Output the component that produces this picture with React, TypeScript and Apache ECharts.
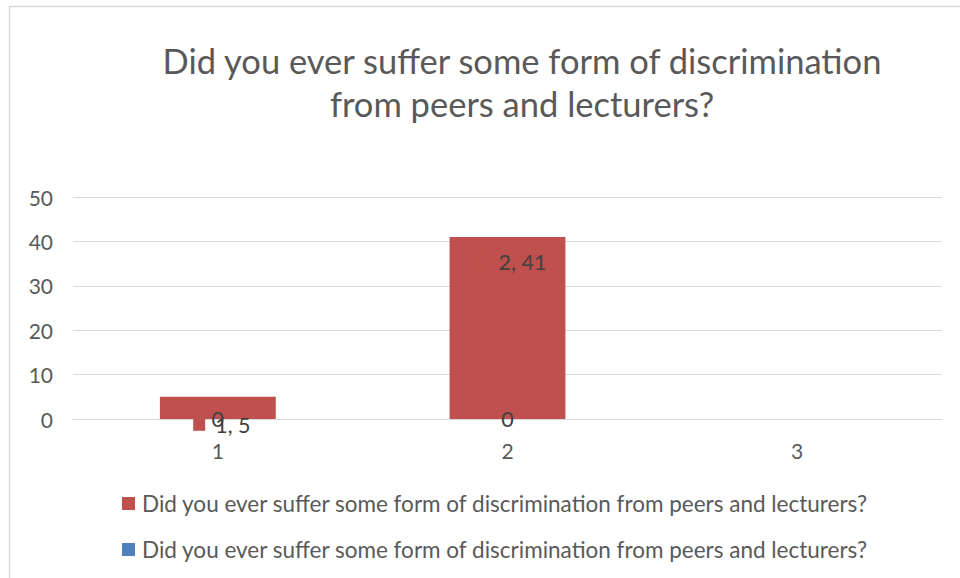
import React, { useEffect, useRef } from "react";
import * as echarts from "echarts";

const categories = ["1", "2", "3"];
const redValues: (number | null)[] = [5, 41, null];
const blueValues: (number | null)[] = [0, 0, null];
const yTicks = { min: 0, max: 50, interval: 10 };
const titleLines = ["Did you ever suffer some form of discrimination", "from peers and lecturers?"];
const seriesLabel = "Did you ever suffer some form of discrimination from peers and lecturers?";

const FONT = "Lato";
const TXT = "#595959";
const RED = "#C0504D";
const BLUE = "#4F81BD";

export default function App() {
  const ref = useRef<HTMLDivElement>(null);
  useEffect(() => {
    document.body.style.margin = "0";
    const chart = echarts.init(ref.current!, null, { renderer: "svg" });
    chart.setOption({
      animation: false,
      backgroundColor: "#ffffff",
      textStyle: { fontFamily: FONT },
      graphic: [
        {
          type: "rect",
          shape: { x: 9.5, y: 6.5, width: 1000, height: 1000 },
          style: { fill: "none", stroke: "#D9D9D9", lineWidth: 1.5 },
          silent: true,
        },
        {
          type: "text",
          x: 522,
          y: 60,
          style: { text: titleLines[0], fontFamily: FONT, fontSize: 34.5, fill: TXT, align: "center", verticalAlign: "middle" },
        },
        {
          type: "text",
          x: 522,
          y: 103,
          style: { text: titleLines[1], fontFamily: FONT, fontSize: 34.5, fill: TXT, align: "center", verticalAlign: "middle" },
        },
      ],
      grid: { left: 73, right: 18, top: 197, bottom: 159, containLabel: false },
      legend: {
        orient: "vertical",
        left: 122,
        top: 492,
        padding: 0,
        itemWidth: 13,
        itemHeight: 13,
        itemGap: 23,
        icon: "rect",
        data: ["red", "blue"],
        formatter: () => seriesLabel,
        textStyle: { fontFamily: FONT, fontSize: 22.5, lineHeight: 22, color: TXT, padding: [0, 0, 0, 2] },
      },
      xAxis: {
        type: "category",
        data: categories,
        axisLine: { lineStyle: { color: "#D9D9D9" } },
        axisTick: { show: false },
        axisLabel: { color: TXT, fontSize: 21, fontFamily: FONT, margin: 21 },
      },
      yAxis: {
        type: "value",
        min: yTicks.min,
        max: yTicks.max,
        interval: yTicks.interval,
        axisLine: { show: false },
        axisTick: { show: false },
        splitLine: { lineStyle: { color: "#D9D9D9" } },
        axisLabel: { color: TXT, fontSize: 21, fontFamily: FONT, margin: 20 },
      },
      series: [
        {
          name: "red",
          type: "bar",
          barWidth: "40%",
          barGap: "-100%",
          itemStyle: { color: RED },
          data: redValues.map((v, i) => ({
            value: v,
            label: { distance: i === 0 ? 17 : 14 },
          })),
          label: {
            show: true,
            position: "insideTop",
            offset: [4, 0],
            formatter: (p: any) => `{k|}{t|${p.name}, ${p.value}}`,
            rich: {
              k: { width: 12, height: 12, backgroundColor: RED },
              t: { padding: [0, 0, 0, 10], fontSize: 21.5, color: "#404040", fontFamily: FONT },
            },
          },
        },
        {
          name: "blue",
          type: "bar",
          barWidth: "40%",
          itemStyle: { color: BLUE },
          data: blueValues,
          label: {
            show: true,
            position: "inside",
            formatter: (p: any) => `${p.value}`,
            color: "#404040",
            fontSize: 21.5,
            fontFamily: FONT,
          },
        },
      ],
    });
    return () => chart.dispose();
  }, []);
  return <div ref={ref} style={{ width: 960, height: 578 }} />;
}
